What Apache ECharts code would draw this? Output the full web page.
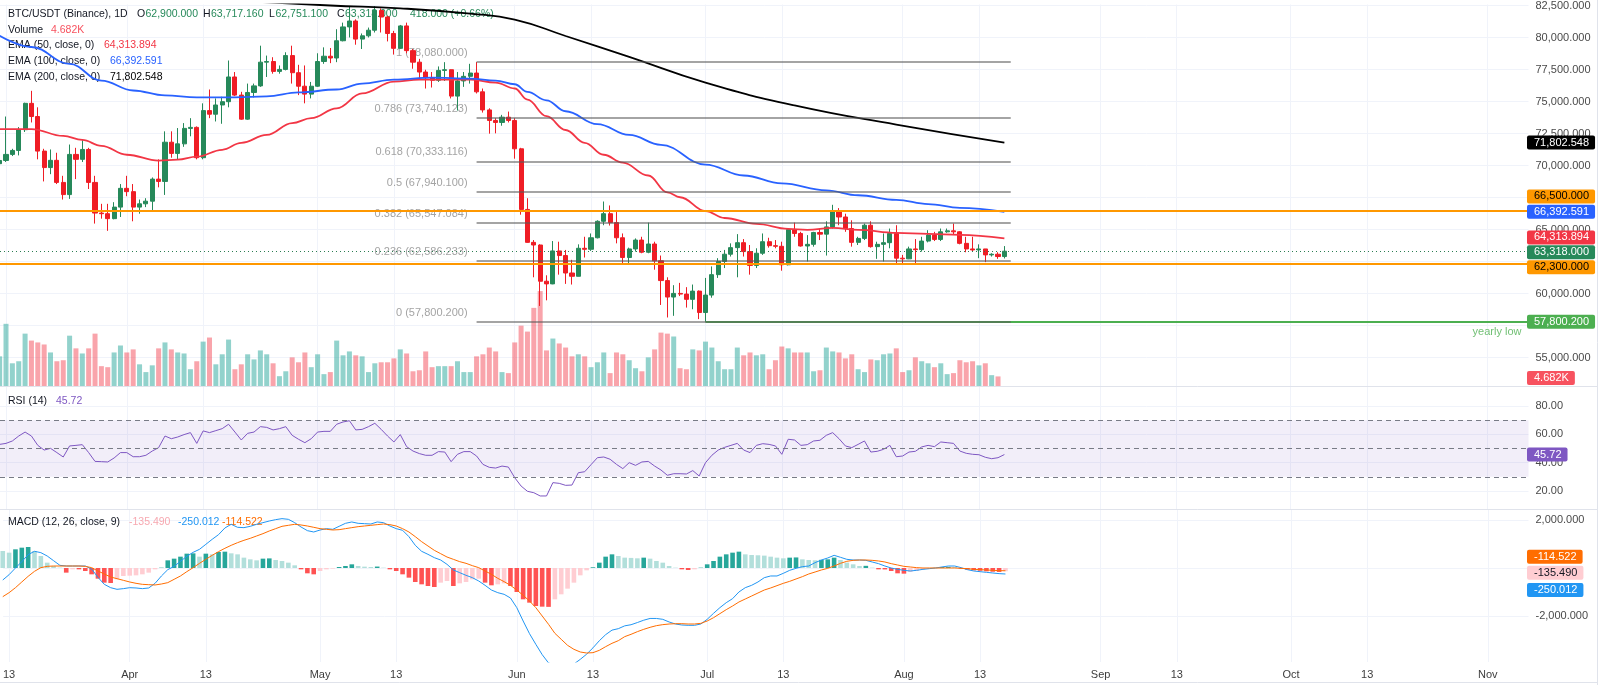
<!DOCTYPE html>
<html><head><meta charset="utf-8">
<script src="https://cdn.jsdelivr.net/npm/echarts@6/dist/echarts.min.js"></script>
<style>html,body{margin:0;padding:0;background:#fff}#c{width:1600px;height:685px}</style>
</head><body><div id="c"></div>
<script>
// day index 0 = Mar 13; arrays start at day -1 (Mar 12)
const firstDay = -1;
const opens = [70150,70400,70874,71183,72803,74861,73832,71132,69846,70412,68688,
67737,70874,70489,71260,68688,66296,66245,65859,66759,68225,
67968,66759,67017,67222,68945,68765,71826,70952,71698,72906,
72984,70617,74295,74012,74732,74990,76919,75504,73627,75710,
76224,78076,78127,77356,77510,78590,77253,76198,75581,76198,
78127,78539,78400,79748,80828,81291,79876,80134,80571,82114,
81600,80314,79156,80905,78976,78076,77305,76867,76661,77433,
77485,75427,76610,76970,77227,75761,74347,73524,73369,73781,
73524,71312,66579,64007,63801,60972,60766,63338,62978,61615,
61358,63544,63467,64367,65653,66245,65550,64367,62824,63493,
64187,63236,63879,62567,61024,59738,60021,59969,59558,60201,
58529,59892,61487,62515,63081,63596,63982,63287,62207,63158,
64059,63750,63699,62258,65010,64702,63724,63853,64779,64650,
65216,66425,65988,65087,64007,64316,65345,63673,63853,63982,
64702,62773,62720,63493,63440,64110,64573,64238,64830,64907,
64830,63930,63493,63416,63493,63030,63081,62900];
const closes = [70400,70874,71183,72803,74861,73832,71132,69846,70412,68688,67737,
70874,70489,71260,68688,66296,66245,65859,66759,68225,67968,
66759,67017,67222,68945,68765,71826,70952,71698,72906,72984,
70617,74295,74012,74732,74990,76919,75504,73627,75710,76224,
78076,78127,77356,77510,78590,77253,76198,75581,76198,78127,
78539,78400,79748,80828,81291,79876,80134,80571,82114,81600,
80314,79156,80905,78976,78076,77305,76867,76661,77433,77485,
75427,76610,76970,77227,75761,74347,73524,73369,73781,73524,
71312,66579,64007,63801,60972,60766,63338,62978,61615,61358,
63544,63467,64367,65653,66245,65550,64367,62824,63493,64187,
63236,63879,62567,61024,59738,60021,59969,59558,60201,58529,
59892,61487,62515,63081,63596,63982,63287,62207,63158,64059,
63750,63699,62258,65010,64702,63724,63853,64779,64650,65216,
66425,65988,65087,64007,64316,65345,63673,63853,63982,64702,
62773,62720,63493,63440,64110,64573,64238,64830,64907,64830,
63930,63493,63416,63493,63030,63081,62900,63318];
const highs = [70700,73832,71312,73009,74912,75838,74552,71312,71260,71003,69203,
71646,71389,71980,71389,69203,67017,67017,67145,68560,69203,
68560,67351,67454,69074,70489,72675,72675,72932,73318,73704,
73061,74861,75941,75247,75375,78205,77305,75761,76404,76404,
79362,78590,78462,77819,78848,79362,77870,77819,76533,78770,
79233,79182,80648,81162,82448,81420,80314,80777,82448,82268,
81700,80520,80982,81162,79105,78333,77485,77305,77742,78076,
77500,77305,77305,77947,78080,76018,74475,73704,73961,74218,
73704,71389,67454,64187,63853,61435,64110,64058,63416,62644,
63853,64444,64702,65730,67197,66888,66374,64702,63596,64316,
64444,65550,64058,62978,61281,60664,60844,60509,60715,60252,
61230,62130,62773,63416,63930,64650,64264,63801,63544,64702,
64367,64187,64059,65087,65550,64830,64573,64830,65087,65653,
66939,66682,66245,65730,64444,65473,65653,64059,64702,65087,
65345,63030,63673,64264,64444,64959,64830,65087,65087,65473,
64882,64444,64444,63853,63493,63158,63236,63717.16];
const lows = [69900,70283,70746,70797,72623,73369,70489,68765,69331,68560,67351,
67402,68945,70283,68174,65473,65859,64907,65808,65988,67608,
65653,66245,66759,66502,68303,67711,70617,70489,71466,72289,
70489,70489,73704,73446,73266,74552,75427,73575,73575,75324,
76147,76919,77176,77176,77433,76404,75504,74861,75247,76147,
77947,77999,78076,79700,80005,79439,79105,80005,80391,80391,
79696,78668,79105,78770,77562,76713,76018,76096,76533,76610,
75247,74295,76147,76404,75633,74141,72495,72520,73112,73369,
70540,66168,63980,61281,59043,59481,60740,61487,60766,60715,
61358,62824,63338,64316,65345,65319,63930,62258,62258,63287,
63158,63158,61873,59120,58143,58272,59815,58915,58786,58015,
57800.2,59686,61230,62001,62901,61281,62901,61487,62001,63030,
63596,63544,61795,62207,64444,63673,62515,63673,64187,62978,
65087,65345,64830,63673,63801,64187,63596,62721,62515,63544,
62258,62258,62700,62258,63287,64007,64110,64110,64753,64624,
63853,63236,63287,62773,62464,62901,62721,62751.1];
const volumesK = [14.5,30.4,11.1,12.1,25.6,22.2,21.3,20.3,16.4,12.1,12.6,
24.6,18.4,15.9,18.4,25.6,9.7,9.2,16.4,19.8,16.4,
17.9,10.6,6.8,10.1,18.4,21.3,17.9,16.4,15.9,8.2,
12.1,21.7,23.7,10.6,15.5,22.7,8.2,10.6,15.5,13.0,
17.4,15.5,11.1,4.8,7.2,14.0,11.6,16.4,9.2,15.5,
5.8,6.8,22.2,15.0,16.9,15.0,14.5,6.8,11.1,11.6,
11.6,13.5,17.9,15.9,7.2,7.7,16.9,9.2,9.7,9.7,
9.7,12.1,6.8,6.8,14.5,15.5,18.8,16.9,6.8,6.3,
21.3,29.5,26.6,38.2,46.4,17.4,23.2,20.8,18.8,14.5,
15.5,14.5,9.2,11.6,16.4,6.3,16.4,15.5,12.6,8.7,
7.2,14.0,17.9,26.1,25.6,24.2,8.7,8.2,17.9,17.4,
21.7,18.8,12.1,8.2,8.2,18.8,15.0,16.4,15.0,15.5,
8.2,12.6,19.3,18.4,16.4,16.4,16.4,7.2,7.7,18.8,
16.9,16.4,13.5,15.5,8.2,6.8,13.0,12.6,15.5,15.9,
18.4,6.8,7.7,14.0,12.1,11.1,9.2,11.1,5.8,6.3,
12.6,11.6,12.1,10.1,11.1,5.3,4.682,null];
const rsi14 = [52.9,53.6,55.3,58.8,61.6,58.8,52.2,48.9,50.1,47.1,44.0,
51.8,52.2,52.7,47.1,40.9,40.7,40.5,43.3,47.1,47.1,
44.2,44.2,45.2,48.2,50.6,58.8,56.9,58.1,59.8,61.2,
53.6,62.4,61.2,62.6,64.0,67.1,61.6,56.0,60.7,61.6,
65.4,64.9,63.1,64.0,65.4,59.3,56.5,54.1,56.9,61.6,
62.1,62.1,67.1,68.7,69.6,63.1,63.5,65.4,67.8,63.5,
58.8,54.6,59.8,51.3,48.2,46.4,45.2,45.2,47.8,47.5,
40.7,45.9,47.8,47.8,44.7,38.8,36.7,36.2,37.6,36.9,
29.4,23.5,19.8,18.8,16.5,16.5,25.9,25.4,24.0,24.2,
32.9,33.6,38.6,43.5,44.0,42.4,38.8,35.8,40.0,38.1,
40.5,40.9,37.6,34.8,31.1,32.2,32.2,32.0,34.4,30.6,
40.0,45.2,48.9,50.8,52.2,53.6,48.9,47.1,52.2,53.4,
52.9,51.8,45.9,56.5,56.0,52.2,52.7,55.3,55.8,59.3,
61.2,56.9,51.8,50.6,52.9,55.3,47.5,48.0,49.4,52.2,
44.2,44.7,47.5,48.0,51.1,52.2,51.3,54.6,54.1,53.6,
48.2,46.6,45.9,45.6,43.8,42.8,43.5,45.72];
const macdLine = [-500,-278,0,264,556,695,639,500,306,111,83,
83,83,83,-42,-389,-681,-820,-889,-861,-820,
-833,-861,-833,-639,-333,-69,69,278,486,653,
778,986,1195,1389,1667,1820,1695,1681,1736,1820,
1889,1958,2014,2056,2028,1889,1708,1556,1500,1583,
1639,1611,1736,1861,1917,1861,1847,1833,1917,1889,
1750,1639,1570,1306,945,695,569,431,333,153,
-83,-194,-306,-403,-542,-722,-917,-1028,-1097,-1250,
-1653,-2209,-2736,-3181,-3611,-3958,-4028,-4069,-4083,-4000,
-3806,-3592,-3328,-3031,-2778,-2589,-2528,-2411,-2364,-2273,
-2176,-2102,-2103,-2139,-2250,-2334,-2375,-2389,-2389,-2334,
-2139,-1889,-1653,-1445,-1278,-1000,-820,-722,-583,-403,
-333,-333,-222,-97,-14,56,83,222,333,417,
528,445,361,333,333,319,250,181,83,0,
-56,-97,-125,-97,-56,-28,0,42,83,83,
14,-69,-125,-153,-181,-208,-235,-250.012];
const signalLine = [-1195,-1028,-820,-583,-347,-139,14,69,83,83,83,
83,83,69,14,-125,-250,-375,-445,-514,-583,
-639,-681,-695,-708,-667,-611,-472,-333,-153,14,
194,361,528,681,820,945,1056,1153,1236,1334,
1431,1542,1639,1736,1778,1820,1792,1750,1695,1639,
1611,1584,1597,1639,1681,1722,1750,1778,1806,1833,
1806,1750,1639,1500,1306,1097,917,736,597,458,
361,264,194,97,14,-125,-264,-431,-569,-722,
-917,-1139,-1375,-1653,-2000,-2347,-2722,-2972,-3222,-3389,
-3500,-3542,-3528,-3431,-3278,-3139,-3028,-2861,-2764,-2653,
-2556,-2472,-2403,-2361,-2334,-2320,-2320,-2334,-2334,-2306,
-2209,-2070,-1903,-1736,-1584,-1417,-1292,-1167,-1042,-917,
-833,-736,-639,-556,-458,-361,-250,-167,-83,-14,
83,194,278,319,333,333,319,292,250,181,
125,69,42,14,0,0,0,0,0,0,
-14,-28,-56,-69,-83,-97,-111,-114.522];
const macdHist = [708,639,778,847,875,708,500,222,83,14,-194,
-56,-56,-125,-264,-445,-611,-625,-472,-333,-320,
-306,-264,-194,-56,14,319,389,472,597,610,
472,597,569,667,680,611,569,431,361,319,
389,400,333,292,222,111,-56,-222,-264,-125,
-56,-28,42,83,153,83,56,42,60,14,
-56,-125,-264,-403,-583,-681,-750,-792,-611,-542,
-750,-639,-583,-472,-445,-611,-722,-681,-639,-750,
-1000,-1306,-1445,-1583,-1611,-1620,-1306,-1097,-861,-611,
-306,-97,30,222,472,569,500,431,420,403,
431,389,292,222,83,14,-56,-83,-56,14,
153,292,472,569,639,681,569,542,530,515,
472,431,403,431,440,361,333,320,340,361,
431,333,222,153,83,90,14,-56,-60,-125,
-222,-236,-167,-125,-56,-20,5,42,45,40,
-28,-70,-100,-115,-140,-155,-165,-135.49];
const ema50Days = [-1,4,9,12,15,19,24,27,30,34,37,41,45,48,52,56,61,65,73,77,80,82,85,88,91,94,97,101,104,106,110,113,118,123,126,130,134,140,145,150,157];
const ema50Vals = [72855,72855,72315,72006,71543,70849,70386,70463,70694,71235,71775,72392,73318,73704,74475,75633,76559,76713,76713,76481,76018,75150,73858,72778,71775,70849,70231,69228,67917,67531,66451,65910,65448,65062,64985,65139,64985,64753,64676,64599,64313.894];
const ema100Days = [-1,4,10,15,20,25,30,36,41,46,52,56,61,67,73,77,80,82,85,88,93,98,103,110,116,122,129,134,140,145,150,157];
const ema100Vals = [80131,79259,77948,76636,75864,75478,75324,75324,75401,75710,75941,76404,76713,76867,76790,76636,76350,75750,75100,74244,73241,72392,71620,70077,69228,68611,68071,67685,67330,67000,66700,66392.591];
const ema200Days = [35,51,62,73,80,88,98,110,124,140,157];
const ema200Vals = [82900,82500,82280,81860,81400,80120,78490,76480,74700,73200,71802.548];
const tickDays = [0,19,31,49,61,80,92,110,122,141,153,172,184,202,214,233];
const tickLabels = ['13','Apr','13','May','13','Jun','13','Jul','13','Aug','13','Sep','13','Oct','13','Nov'];
const priceTicks = [55000,57500,60000,62500,65000,67500,70000,72500,75000,77500,80000,82500];
const priceLabels = [55000,60000,65000,70000,72500,75000,77500,80000,82500];
const rsiTicks = [20,40,60,80];
const macdTicks = [-2000,0,2000];
const macdLabels = [-2000,2000];
const fibRatios = ['1','0.786','0.618','0.5','0.382','0.236','0'];
const fibPrices = [78080,73740.123,70333.116,67940.1,65547.084,62586.233,57800.2];
const fibStartDay = 74, fibEndDay = 158;
const supportLevels = [66500,62300];
const yearlyLow = 57800.2, yearlyLowDay = 110;
const lastClose = 63318;

// ---------- styling / layout ----------
const FONT = 'Arial, "Liberation Sans", Helvetica, sans-serif';
const UP = '#26895a', DN = '#ef1d25';
const VUP = 'rgba(38,166,154,0.5)', VDN = 'rgba(242,54,69,0.45)';
const X_MIN = -0.944, X_MAX = 239.42;
const GRID_R = 71.5;
const fmt = (v, d) => Number(v).toLocaleString('en-US', {minimumFractionDigits: d, maximumFractionDigits: d});

const candleData = closes.map((c, i) => [firstDay + i, opens[i], c, lows[i], highs[i]]);
const volData = [];
volumesK.forEach((v, i) => { if (v != null) volData.push({value: [firstDay + i, v], itemStyle: {color: closes[i] >= opens[i] ? VUP : VDN}}); });
const rsiData = rsi14.map((v, i) => [firstDay + i, v]);
const macdData = macdLine.map((v, i) => [firstDay + i, v]);
const sigData = signalLine.map((v, i) => [firstDay + i, v]);
const histData = macdHist.map((v, i) => {
  const prev = i > 0 ? macdHist[i - 1] : v;
  let col;
  if (v >= 0) col = v > prev ? '#26a69a' : '#b2dfdb';
  else col = v > prev ? '#ffcdd2' : '#ff5252';
  return {value: [firstDay + i, v], itemStyle: {color: col}};
});
const pairs = (days, vals) => days.map((d, k) => [d, vals[k]]);

function xAxisFor(g, withLabels) {
  return {
    type: 'value', gridIndex: g, min: X_MIN, max: X_MAX,
    axisLine: {show: false},
    axisTick: {show: false, customValues: tickDays},
    splitLine: {show: true, lineStyle: {color: '#f0f3fa', width: 1}},
    axisLabel: withLabels ? {
      customValues: tickDays, margin: 7, color: '#3d3d3d', fontSize: 11, fontFamily: FONT,
      formatter: v => tickLabels[tickDays.indexOf(Math.round(v))] || ''
    } : {show: false}
  };
}
function yAxisFor(g, min, max, ticks, labels, dec) {
  return {
    type: 'value', gridIndex: g, position: 'right', min: min, max: max, scale: true,
    axisLine: {show: false},
    axisTick: {show: false, customValues: ticks},
    splitLine: {show: true, lineStyle: {color: '#f0f3fa', width: 1}},
    axisLabel: {customValues: labels, margin: 7, color: '#4a4a4a', fontSize: 11, fontFamily: FONT,
      formatter: v => fmt(v, dec)}
  };
}

const fibLines = fibPrices.map(p => [{coord: [fibStartDay, p], lineStyle: {color: 'rgba(90,90,90,0.55)', width: 2, type: 'solid'}}, {coord: [fibEndDay, p]}]);
const option = {
  animation: false,
  backgroundColor: '#ffffff',
  textStyle: {fontFamily: FONT},
  grid: [
    {left: 0, right: GRID_R, top: 0, height: 386},
    {left: 0, right: GRID_R, top: 386, height: 123},
    {left: 0, right: GRID_R, top: 509, height: 153}
  ],
  xAxis: [xAxisFor(0, false), xAxisFor(1, false), xAxisFor(2, true)],
  yAxis: [
    yAxisFor(0, 52793, 82577, priceTicks, priceLabels, 3),
    {type: 'value', gridIndex: 0, show: false, min: 0, max: 186.5, splitLine: {show: false}},
    yAxisFor(1, 7.3, 94.1, rsiTicks, rsiTicks, 2),
    yAxisFor(2, -3917, 2458, macdTicks, macdLabels, 3)
  ],
  series: [
    {type: 'bar', name: 'Volume', xAxisIndex: 0, yAxisIndex: 1, data: volData, barWidth: 5, z: 1, silent: true},
    {type: 'scatter', name: 'fibLabels', xAxisIndex: 0, yAxisIndex: 0, z: 1, symbolSize: 0, silent: true,
      data: fibPrices.map((p, k) => ({value: [fibStartDay, p], name: fibRatios[k] + ' (' + fmt(p, 3) + ')'})),
      label: {show: true, position: 'left', distance: 9, offset: [0, -9], formatter: '{b}', color: '#8c8c8c', fontSize: 11, fontFamily: FONT}},
    {type: 'scatter', name: 'lowLabel', xAxisIndex: 0, yAxisIndex: 0, z: 1, symbolSize: 0, silent: true,
      data: [{value: [X_MAX, yearlyLow], name: 'yearly low'}],
      label: {show: true, position: 'left', distance: 7, offset: [0, 10], formatter: '{b}', color: '#4caf50', fontSize: 11, fontFamily: FONT}},
    {type: 'candlestick', name: 'BTC/USDT', xAxisIndex: 0, yAxisIndex: 0, data: candleData, barWidth: 4.6, z: 3,
      itemStyle: {color: UP, color0: DN, borderColor: UP, borderColor0: DN, borderWidth: 1},
      markLine: {silent: true, symbol: ['none', 'none'], label: {show: false}, animation: false,
        data: [
          [{coord: [X_MIN, lastClose], lineStyle: {color: '#2b7d52', width: 1, type: [1, 3]}}, {coord: [X_MAX, lastClose]}],
          ...supportLevels.map(v => [{coord: [X_MIN, v], lineStyle: {color: '#ff9800', width: 2, type: 'solid'}}, {coord: [X_MAX, v]}]),
          [{coord: [yearlyLowDay, yearlyLow], lineStyle: {color: '#4caf50', width: 2, type: 'solid'}}, {coord: [X_MAX, yearlyLow]}],
          ...fibLines
        ]}},
    {type: 'line', name: 'EMA50', xAxisIndex: 0, yAxisIndex: 0, data: pairs(ema50Days, ema50Vals), smooth: 0.4, smoothMonotone: 'x', symbol: 'none', z: 4, lineStyle: {color: '#f23645', width: 1.8}},
    {type: 'line', name: 'EMA100', xAxisIndex: 0, yAxisIndex: 0, data: pairs(ema100Days, ema100Vals), smooth: 0.4, smoothMonotone: 'x', symbol: 'none', z: 4, lineStyle: {color: '#2962ff', width: 1.8}},
    {type: 'line', name: 'EMA200', xAxisIndex: 0, yAxisIndex: 0, data: pairs(ema200Days, ema200Vals), smooth: 0.5, symbol: 'none', z: 4, lineStyle: {color: '#000000', width: 1.8}},
    {type: 'line', name: 'RSI', xAxisIndex: 1, yAxisIndex: 2, data: rsiData, symbol: 'none', z: 3, lineStyle: {color: '#7e57c2', width: 1},
      markArea: {silent: true, itemStyle: {color: 'rgba(126,87,194,0.1)'}, data: [[{coord: [X_MIN, 30]}, {coord: [X_MAX, 70]}]]},
      markLine: {silent: true, symbol: ['none', 'none'], label: {show: false}, lineStyle: {color: '#787b86', width: 1, type: [5, 4]},
        data: [70, 50, 30].map(v => [{coord: [X_MIN, v]}, {coord: [X_MAX, v]}])}},
    {type: 'bar', name: 'Histogram', xAxisIndex: 2, yAxisIndex: 3, data: histData, barWidth: 4.6, z: 2, silent: true},
    {type: 'line', name: 'MACD', xAxisIndex: 2, yAxisIndex: 3, data: macdData, symbol: 'none', z: 3, lineStyle: {color: '#2196f3', width: 1}},
    {type: 'line', name: 'Signal', xAxisIndex: 2, yAxisIndex: 3, data: sigData, symbol: 'none', z: 3, lineStyle: {color: '#ff6d00', width: 1}}
  ]
};

const chart = echarts.init(document.getElementById('c'));
chart.setOption(option);

// ---------- price-scale value boxes ----------
const boxes = [
  {axis: 0, value: ema200Vals[ema200Vals.length - 1], bg: '#000000', fg: '#ffffff', dy: 0, dec: 3},
  {axis: 0, value: supportLevels[0], bg: '#ff9800', fg: '#000000', dy: -14, dec: 3},
  {axis: 0, value: ema100Vals[ema100Vals.length - 1], bg: '#2962ff', fg: '#ffffff', dy: 0, dec: 3},
  {axis: 0, value: ema50Vals[ema50Vals.length - 1], bg: '#f23645', fg: '#ffffff', dy: -1, dec: 3},
  {axis: 0, value: lastClose, bg: '#26895a', fg: '#ffffff', dy: 1, dec: 3},
  {axis: 0, value: supportLevels[1], bg: '#ff9800', fg: '#000000', dy: 3, dec: 3},
  {axis: 0, value: yearlyLow, bg: '#4caf50', fg: '#ffffff', dy: 0, dec: 3},
  {axis: 1, value: volumesK[volumesK.length - 2], bg: '#f7525f', fg: '#ffffff', dy: 1.5, text: volumesK[volumesK.length - 2].toFixed(3) + 'K'},
  {axis: 2, value: rsi14[rsi14.length - 1], bg: '#7e57c2', fg: '#ffffff', dy: 0, dec: 2},
  {axis: 3, value: signalLine[signalLine.length - 1], bg: '#ff6d00', fg: '#ffffff', dy: -14, dec: 3},
  {axis: 3, value: macdHist[macdHist.length - 1], bg: '#ffcdd2', fg: '#131722', dy: 1.5, dec: 3},
  {axis: 3, value: macdLine[macdLine.length - 1], bg: '#2196f3', fg: '#ffffff', dy: 16, dec: 3}
];
const gfx = [];
boxes.forEach(b => {
  const y = chart.convertToPixel({yAxisIndex: b.axis}, b.value) + b.dy;
  gfx.push({type: 'text', x: 1527, y: y, z: 100, silent: true,
    style: {text: b.text || fmt(b.value, b.dec), fill: b.fg, font: '11px ' + FONT, backgroundColor: b.bg,
      padding: [2, 6, 1, 7], borderRadius: 2, verticalAlign: 'middle', align: 'left'}});
});

// ---------- legends ----------
const DARK = '#131722';
function t(x, y, s, col) {
  gfx.push({type: 'text', x: x, y: y, z: 0, silent: true,
    style: {text: s, fill: col, font: '10.5px ' + FONT, verticalAlign: 'middle', align: 'left'}});
}
const G = '#26895a';
t(8, 14, 'BTC/USDT (Binance), 1D', DARK);
t(137, 14, 'O', DARK); t(145.5, 14, fmt(opens[opens.length - 1], 3), G);
t(203, 14, 'H', DARK); t(211, 14, fmt(highs[highs.length - 1], 3), G);
t(269, 14, 'L', DARK); t(275.5, 14, fmt(lows[lows.length - 1], 3), G);
t(337, 14, 'C', DARK); t(345, 14, fmt(closes[closes.length - 1], 3), G);
const chg = closes[closes.length - 1] - closes[closes.length - 2];
t(410, 14, fmt(chg, 3) + ' (+' + (chg / closes[closes.length - 2] * 100).toFixed(2) + '%)', G);
t(8, 30, 'Volume', DARK); t(51, 30, volumesK[volumesK.length - 2].toFixed(3) + 'K', '#f7525f');
t(8, 45.5, 'EMA (50, close, 0)', DARK); t(104, 45.5, fmt(ema50Vals[ema50Vals.length - 1], 3), '#f23645');
t(8, 61, 'EMA (100, close, 0)', DARK); t(110, 61, fmt(ema100Vals[ema100Vals.length - 1], 3), '#2962ff');
t(8, 77, 'EMA (200, close, 0)', DARK); t(110, 77, fmt(ema200Vals[ema200Vals.length - 1], 3), '#000000');
t(8, 401, 'RSI (14)', DARK); t(56, 401, rsi14[rsi14.length - 1].toFixed(2), '#7e57c2');
t(8, 522.5, 'MACD (12, 26, close, 9)', DARK);
t(129, 522.5, fmt(macdHist[macdHist.length - 1], 3), '#f7a8b0');
t(178, 522.5, fmt(macdLine[macdLine.length - 1], 3), '#2196f3');
t(222, 522.5, fmt(signalLine[signalLine.length - 1], 3), '#ff6d00');

// pane separators / borders
const sep = (x1, y1, x2, y2) => gfx.push({type: 'line', z: 50, silent: true, shape: {x1, y1, x2, y2}, style: {stroke: '#e0e3eb', lineWidth: 1}});
sep(0, 386.5, 1597, 386.5);
sep(0, 509.5, 1597, 509.5);
sep(1597.5, 0, 1597.5, 685);
sep(0, 682.5, 1597, 682.5);

chart.setOption({graphic: gfx});
</script>
</body></html>
